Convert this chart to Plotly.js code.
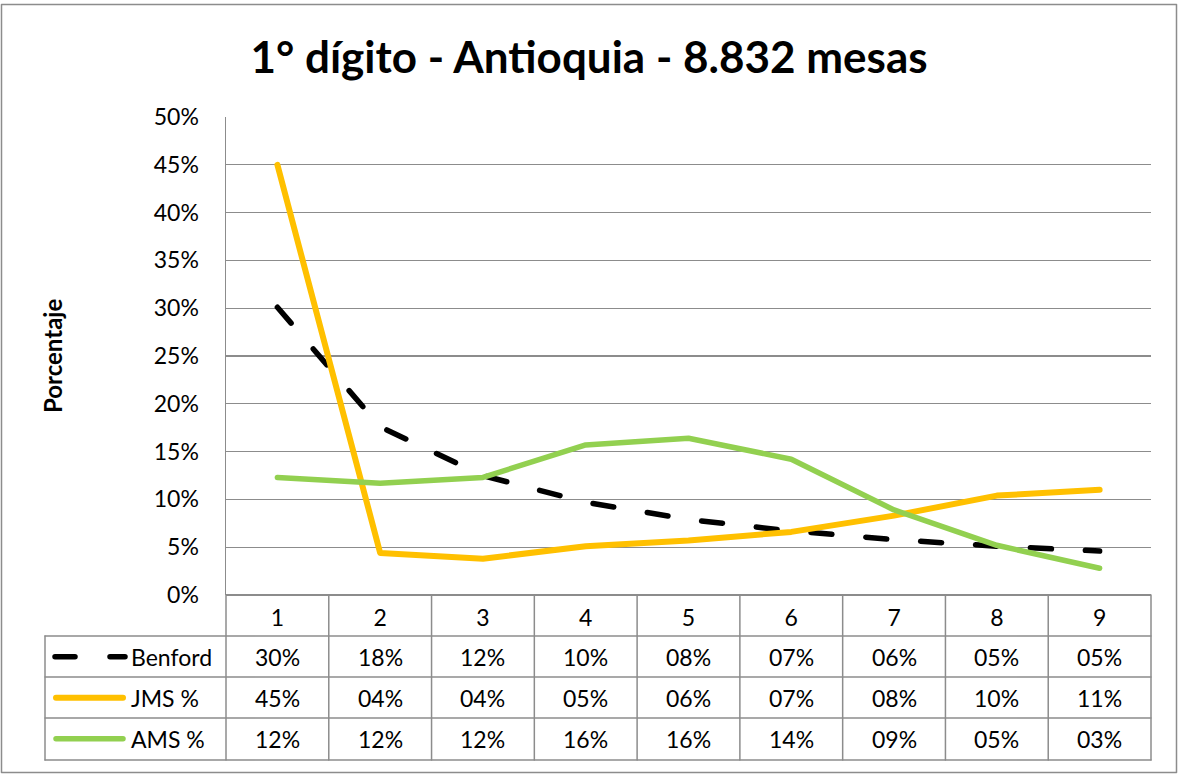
<!DOCTYPE html>
<html>
<head>
<meta charset="utf-8">
<script src="https://cdn.plot.ly/plotly-3.0.1.min.js"></script>
<style>
  html, body { margin: 0; padding: 0; background: #fff; }
  #chart { width: 1178px; height: 774px; }
  .js-line, .shapelayer path { stroke-linecap: round; stroke-linejoin: round; }
</style>
</head>
<body>
<div id="chart"></div>
<script>
// ---- data ----
const categories = ['1', '2', '3', '4', '5', '6', '7', '8', '9'];
const seriesNames = ['Benford', 'JMS %', 'AMS %'];
const benford = [0.301, 0.176, 0.1249, 0.097, 0.079, 0.067, 0.058, 0.051, 0.046];
const jms = [0.450, 0.044, 0.038, 0.051, 0.057, 0.066, 0.083, 0.104, 0.110];
const ams = [0.123, 0.117, 0.123, 0.157, 0.164, 0.142, 0.089, 0.052, 0.028];
const benfordLabels = ['30%', '18%', '12%', '10%', '08%', '07%', '06%', '05%', '05%'];
const jmsLabels = ['45%', '04%', '04%', '05%', '06%', '07%', '08%', '10%', '11%'];
const amsLabels = ['12%', '12%', '12%', '16%', '16%', '14%', '09%', '05%', '03%'];
const titleText = '1° dígito - Antioquia - 8.832 mesas';
const yTitleText = 'Porcentaje';

// ---- layout helpers (pixel -> paper) ----
const W = 1178, H = 774, L = 226, R = 1151, T = 117, B = 760;
const px2x = px => (px - L) / (R - L);
const px2y = py => (B - py) / (B - T);
const FONT = 'Lato, "Open Sans", sans-serif';
const GRID = '#8c8c8c';
const colors = ['#000000', '#FFC000', '#92D050'];
const widths = [5.5, 6, 5.5];

const xs = categories.map((c, i) => i + 1);
const values = [benford, jms, ams];
const labels = [benfordLabels, jmsLabels, amsLabels];

const traces = values.map((v, k) => ({
  type: 'scatter', mode: 'lines', x: xs, y: v, name: seriesNames[k],
  line: { color: colors[k], width: widths[k], dash: k === 0 ? '21px,34px' : 'solid', shape: 'linear' },
  hoverinfo: 'skip'
}));
const data = [traces[0], traces[1], traces[2]];

const rowTops = [636, 677, 718];
const rowH = 41.3;
const shapes = [];
const line = (x0, y0, x1, y1, color, width) => shapes.push({
  type: 'line', xref: 'paper', yref: 'paper',
  x0: px2x(x0), y0: px2y(y0), x1: px2x(x1), y1: px2y(y1),
  line: { color: color, width: width }
});
// outer chart border
shapes.push({ type: 'rect', xref: 'paper', yref: 'paper',
  x0: px2x(1.5), y0: px2y(4.5), x1: px2x(1176.5), y1: px2y(772.5),
  line: { color: '#8c8c8c', width: 1.5 } });
// table horizontal lines
[636, 677, 718, 760].forEach(y => line(45, y, R, y, GRID, 1.5));
// table vertical lines
line(45, 636, 45, 760, GRID, 1.5);
line(L, 595, L, 760, GRID, 1.5);
for (let k = 1; k <= categories.length; k++) {
  const px = L + k * (R - L) / categories.length;
  line(px, 595, px, 760, GRID, 1.5);
}
// legend keys + table values
const annotations = [];
seriesNames.forEach((n, k) => {
  const yc = rowTops[k] + rowH / 2;
  if (k === 0) {
    line(55, yc, 75, yc, colors[k], widths[k]);
    line(110, yc, 125, yc, colors[k], widths[k]);
  } else {
    line(56, yc, 123, yc, colors[k], widths[k]);
  }
  annotations.push({ xref: 'paper', yref: 'paper', x: px2x(129), y: px2y(yc),
    xanchor: 'left', yanchor: 'middle', text: n, showarrow: false,
    font: { family: FONT, size: 23, color: '#000' } });
  labels[k].forEach((t, i) => annotations.push({
    xref: 'x', yref: 'paper', x: xs[i], y: px2y(yc), xanchor: 'center', yanchor: 'middle',
    text: t, showarrow: false, font: { family: FONT, size: 23, color: '#000' } }));
});
annotations.push({ xref: 'paper', yref: 'paper', x: px2x(52), y: px2y(356),
  xanchor: 'center', yanchor: 'middle', textangle: -90, text: '<b>' + yTitleText + '</b>',
  showarrow: false, font: { family: FONT, size: 24, color: '#000' } });

const layout = {
  width: W, height: H,
  margin: { l: L, r: W - R, t: T, b: H - B, pad: 0 },
  paper_bgcolor: '#fff', plot_bgcolor: '#fff',
  showlegend: false,
  title: { text: '<b>' + titleText + '</b>', x: 0.5, xref: 'container', xanchor: 'center',
    y: 1 - 58 / H, yref: 'container', yanchor: 'middle',
    font: { family: FONT, size: 44, color: '#000' } },
  xaxis: { range: [0.5, categories.length + 0.5], tickvals: xs, ticktext: categories,
    showgrid: false, zeroline: false, showline: false, ticks: '', fixedrange: true,
    tickfont: { family: FONT, size: 23, color: '#000' }, ticklabelstandoff: 7 },
  yaxis: { domain: [px2y(595), 1], range: [0, 0.5], dtick: 0.05, tick0: 0, tickformat: '.0%',
    showgrid: true, gridcolor: GRID, gridwidth: 1.3, zeroline: true, zerolinecolor: GRID, zerolinewidth: 1.5,
    showline: true, linecolor: GRID, linewidth: 1.5, ticks: '', fixedrange: true,
    tickfont: { family: FONT, size: 23, color: '#000' }, ticklabelstandoff: 21 },
  shapes: shapes,
  annotations: annotations
};

Plotly.newPlot('chart', data, layout, { displayModeBar: false, staticPlot: true });
</script>
</body>
</html>
